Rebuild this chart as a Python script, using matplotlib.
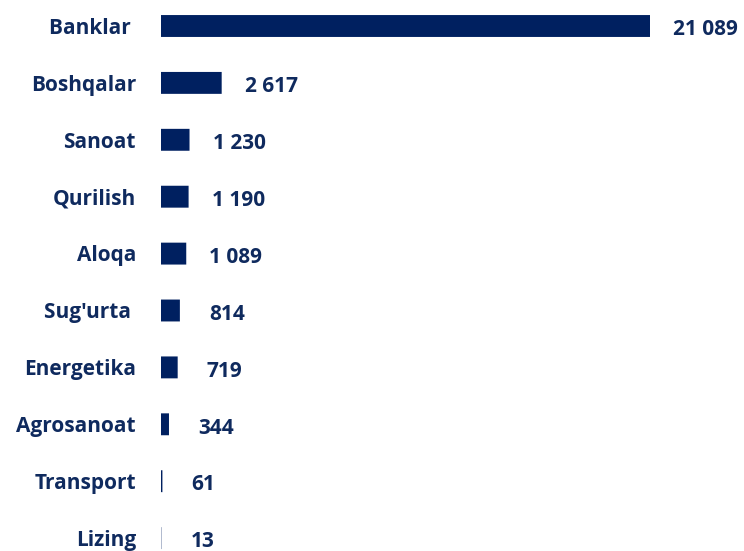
import matplotlib.pyplot as plt

# data
sectors = ['Banklar ', 'Boshqalar', 'Sanoat', 'Qurilish', 'Aloqa',
           "Sug'urta ", 'Energetika', 'Agrosanoat', 'Transport', 'Lizing']
values = [21089, 2617, 1230, 1190, 1089, 814, 719, 344, 61, 13]

bar_col = '#002060'
txt_col = '#0f2a5e'
plt.rcParams['font.family'] = ['Open Sans', 'DejaVu Sans']

fig = plt.figure(figsize=(7.44, 5.51), dpi=100)
# axes spans from x=161px to x=650px (bar of the largest value), full height
ax = fig.add_axes([161/744, 0, (650-161)/744, 1])

pos = list(range(len(sectors)))
bars = ax.barh(pos, values, height=0.385, color=bar_col)
for b in bars:
    b.set_snap(False)
ax.set_xlim(0, max(values))
ax.set_ylim((551-26)/56.9, -26/56.9)
ax.axis('off')

px = 0.72  # points per pixel at dpi 100
for i, (s, v) in enumerate(zip(sectors, values)):
    ax.annotate(s, xy=(0, i), xytext=(-25*px, -7.7*px), textcoords='offset points',
                ha='right', va='baseline', fontsize=15, fontweight='bold',
                color=txt_col, annotation_clip=False)
    gap = 23 if v >= 1000 else 29
    ax.annotate(f"{v:,}".replace(',', ' '), xy=(v, i), xytext=(gap*px, -9.3*px),
                textcoords='offset points', ha='left', va='baseline',
                fontsize=15, fontweight='bold', color=txt_col,
                annotation_clip=False)

plt.savefig('out.png', dpi=100)
